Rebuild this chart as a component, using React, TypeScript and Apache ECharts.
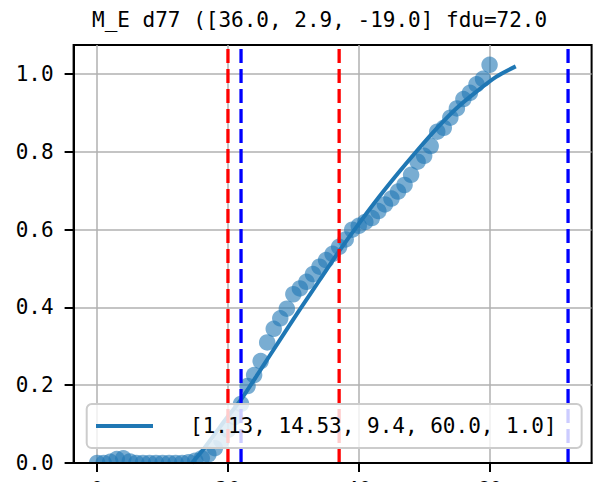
import React, { useEffect, useRef } from "react";
import * as echarts from "echarts";

const TITLE = "M_E d77 ([36.0, 2.9, -19.0] fdu=72.0";
const FIT_LABEL = "[1.13, 14.53, 9.4, 60.0, 1.0]";

const xPoints = [
  0, 1, 2, 3, 4, 5, 6, 7, 8, 9, 10, 11, 12, 13, 14, 15, 16, 17, 18, 19, 20,
  21, 22, 23, 24, 25, 26, 27, 28, 29, 30, 31, 32, 33, 34, 35, 36, 37, 38, 39, 40,
  41, 42, 43, 44, 45, 46, 47, 48, 49, 50, 51, 52, 53, 54, 55, 56, 57, 58, 59, 60,
];
const yPoints = [
  0.0, 0.0, 0.003, 0.01, 0.012, 0.004, 0.0, 0.0, 0.0, 0.0, 0.0, 0.0, 0.0, 0.0,
  0.002, 0.006, 0.012, 0.022, 0.038, 0.058, 0.085,
  0.118, 0.152, 0.198, 0.226, 0.262, 0.31, 0.345, 0.372, 0.397, 0.434,
  0.449, 0.466, 0.486, 0.505, 0.522, 0.538, 0.556, 0.575, 0.6, 0.61,
  0.62, 0.63, 0.648, 0.665, 0.68, 0.698, 0.715, 0.741, 0.775, 0.79,
  0.815, 0.852, 0.862, 0.888, 0.912, 0.936, 0.952, 0.974, 0.988, 1.024,
];

const fitX = [14.5, 16, 18, 20, 22, 25, 28, 31, 34, 37, 40, 43, 46, 49, 52, 55, 58, 61, 64];
const fitY = [0, 0.03, 0.075, 0.12, 0.163, 0.24, 0.318, 0.395, 0.47, 0.545, 0.615, 0.682, 0.745, 0.805, 0.862, 0.913, 0.955, 0.993, 1.02];

const redLines = [20, 37];
const blueLines = [22, 72];

const xTicks = [0, 20, 40, 60];
const yTicks = [0, 0.2, 0.4, 0.6, 0.8, 1.0];

const X_MIN = -3.6;
const X_MAX = 75.6;
const Y_MIN = 0;
const Y_MAX = 1.075;

const FONT = "'DejaVu Sans Mono', monospace";
const BLUE = "#1f77b4";

export default function App() {
  const ref = useRef<HTMLDivElement>(null);

  useEffect(() => {
    if (!ref.current) return;
    const chart = echarts.init(ref.current, undefined, { renderer: "svg" });

    const vline = (v: number, color: string) => ({
      type: "line",
      name: "v" + v,
      data: [
        [v, Y_MIN],
        [v, Y_MAX],
      ],
      symbol: "none",
      showSymbol: false,
      silent: true,
      z: 4,
      lineStyle: { color, width: 3.3, type: [14, 6] },
    });

    const gridAxis = (min: number, max: number, ticks: number[], position: string) => ({
      type: "value",
      min,
      max,
      position,
      z: 0,
      axisLine: { show: false },
      axisTick: { show: false, customValues: ticks },
      axisLabel: { show: false, customValues: ticks },
      splitLine: { show: true, lineStyle: { color: "#b0b0b0", width: 1.5 } },
    });

    const labelAxis = (
      min: number,
      max: number,
      ticks: number[],
      position: string,
      margin: number,
      formatter: (v: number) => string
    ) => ({
      type: "value",
      min,
      max,
      position,
      z: 5,
      axisLine: { show: true, onZero: false, lineStyle: { color: "#000", width: 2 } },
      axisTick: { show: true, length: 9, lineStyle: { color: "#000", width: 2 }, customValues: ticks },
      axisLabel: {
        customValues: ticks,
        margin,
        color: "#000",
        fontFamily: FONT,
        fontSize: 21,
        formatter,
      },
      splitLine: { show: false },
    });

    const option: any = {
      animation: false,
      title: {
        text: TITLE,
        left: 92,
        top: 9,
        padding: 0,
        textStyle: { fontFamily: FONT, fontSize: 21, fontWeight: "normal", color: "#000" },
      },
      grid: {
        left: 73.6,
        right: 1.4,
        top: 45,
        bottom: 19,
        show: true,
        borderColor: "#000",
        borderWidth: 2,
        containLabel: false,
        outerBoundsMode: "none",
      },
      xAxis: [
        gridAxis(X_MIN, X_MAX, xTicks, "bottom"),
        labelAxis(X_MIN, X_MAX, xTicks, "bottom", 16, (v: number) => String(v)),
      ],
      yAxis: [
        gridAxis(Y_MIN, Y_MAX, yTicks, "left"),
        labelAxis(Y_MIN, Y_MAX, yTicks, "left", 20, (v: number) => v.toFixed(1)),
      ],
      legend: {
        data: [{ name: FIT_LABEL, icon: "rect" }],
        left: 86.7,
        top: 404,
        padding: [10, 25, 10, 9.3],
        itemWidth: 57,
        itemHeight: 4,
        backgroundColor: "rgba(255,255,255,0.8)",
        borderColor: "#cccccc",
        borderWidth: 2,
        borderRadius: 5,
        selectedMode: false,
        z: 10,
        textStyle: {
          fontFamily: FONT,
          fontSize: 21,
          color: "#000",
          lineHeight: 24,
          padding: [0, 0, 0, 32],
        },
      },
      graphic: {
        elements: [
          {
            type: "rect",
            z: 3,
            silent: true,
            shape: { x: 0, y: 464, width: 593, height: 18 },
            style: { fill: "#ffffff" },
          },
        ],
      },
      series: [
        {
          type: "scatter",
          name: "samples",
          xAxisIndex: 0,
          yAxisIndex: 0,
          data: xPoints.map((x, i) => [x, yPoints[i]]),
          symbolSize: 16.5,
          silent: true,
          z: 2,
          itemStyle: { color: BLUE, opacity: 0.6 },
        },
        {
          type: "line",
          name: FIT_LABEL,
          xAxisIndex: 0,
          yAxisIndex: 0,
          data: fitX.map((x, i) => [x, fitY[i]]),
          symbol: "none",
          showSymbol: false,
          smooth: 0.3,
          silent: true,
          z: 3,
          itemStyle: { color: BLUE },
          lineStyle: { color: BLUE, width: 4 },
        },
        ...redLines.map((v) => vline(v, "#ff0000")),
        ...blueLines.map((v) => vline(v, "#0000ff")),
      ],
    };

    chart.setOption(option);
    return () => chart.dispose();
  }, []);

  return (
    <div
      ref={ref}
      style={{ position: "fixed", left: 0, top: 0, width: 593, height: 482, background: "#fff" }}
    />
  );
}
